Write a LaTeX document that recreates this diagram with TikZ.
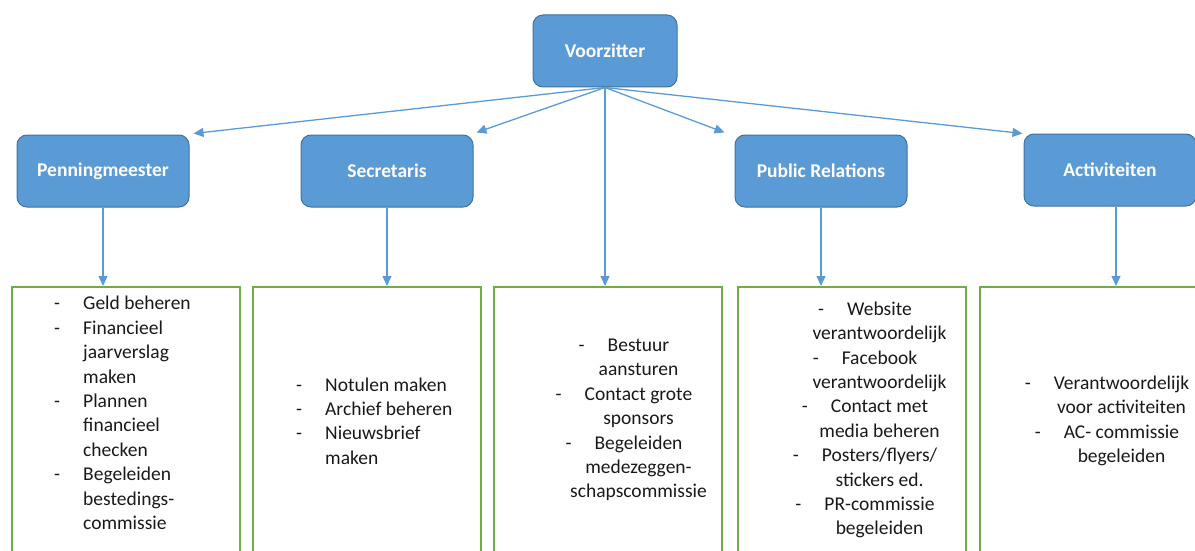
\documentclass[tikz,border=0pt]{standalone}
\usepackage{fontspec}
\setmainfont{Carlito}
\usetikzlibrary{arrows.meta}
\definecolor{boxblue}{HTML}{5B9BD5}
\definecolor{boxedge}{HTML}{41719C}
\definecolor{boxgreen}{HTML}{70AD47}
\newcommand{\dl}[1]{\makebox[29pt][l]{-}#1}
\newcommand{\cl}[1]{\hspace*{29pt}#1}
\begin{document}
\begin{tikzpicture}[x=1pt,y=-1pt,
  role/.style={draw=boxedge, line width=1pt, fill=boxblue, rounded corners=10pt,
    minimum width=172pt, minimum height=72pt, text=white,
    font=\fontsize{19.5}{23}\selectfont\bfseries, inner sep=0pt},
  duty/.style={draw=boxgreen, line width=1.5pt, minimum width=228pt,
    minimum height=300pt, anchor=north west, inner sep=0pt},
  conn/.style={draw=boxblue, line width=1.3pt, -{Triangle[length=10pt,width=9pt]}},
  list/.style={inner sep=0pt, font=\fontsize{19.5}{24.4}\selectfont, text=black!90}]
\clip (0,0) rectangle (1195,551);
% duty boxes
\node[duty] (B1) at (11,286) {};
\node[duty] (B2) at (252,286) {};
\node[duty] (B3) at (493,286) {};
\node[duty] (B4) at (737,286) {};
\node[duty] (B5) at (979,286) {};
% role boxes
\node[role, minimum width=144pt] (V) at (605,51) {Voorzitter};
\node[role] (P) at (103,171) {Penningmeester};
\node[role] (S) at (387,171) {Secretaris};
\node[role] (R) at (821,171) {Public Relations};
\node[role] (A) at (1110,170) {Activiteiten};
% connectors
\draw[conn] (V.south) -- ([shift={(4,-1)}]P.north east);
\draw[conn] (V.south) -- ([shift={(3,-2)}]S.north east);
\draw[conn] (V.south) -- ([shift={(-10,-2)}]R.north west);
\draw[conn] (V.south) -- ([shift={(-1,0)}]A.north west);
\draw[conn] (V.south) -- (V.south |- B3.north);
\draw[conn] (P.south) -- (P.south |- B1.north);
\draw[conn] (S.south) -- (S.south |- B2.north);
\draw[conn] (R.south) -- (R.south |- B4.north);
\draw[conn] ([xshift=6pt]A.south) -- ([xshift=6pt]A.south |- B5.north);
% texts
\node[list, align=left, anchor=west] (T1) at (54,413)
  {\dl{Geld beheren}\\ \dl{Financieel}\\ \cl{jaarverslag}\\ \cl{maken}\\
   \dl{Plannen}\\ \cl{financieel}\\ \cl{checken}\\ \dl{Begeleiden}\\
   \cl{bestedings-}\\ \cl{commissie}};
\node[list, align=left, anchor=west] (T2) at (296,421)
  {\dl{Notulen maken}\\ \dl{Archief beheren}\\ \dl{Nieuwsbrief}\\ \cl{maken}};
\node[list, align=center] (T3) at (624,420)
  {\dl{Bestuur}\\ \cl{aansturen}\\ \dl{Contact grote}\\ \cl{sponsors}\\
   \dl{Begeleiden}\\ \cl{medezeggen-}\\ \cl{schapscommissie}};
\node[list, align=center] (T4) at (865,420)
  {\dl{Website}\\ \cl{verantwoordelijk}\\ \dl{Facebook}\\ \cl{verantwoordelijk}\\
   \dl{Contact met}\\ \cl{media beheren}\\ \dl{Posters/flyers/}\\ \cl{stickers ed.}\\
   \dl{PR-commissie}\\ \cl{begeleiden}};
\node[list, align=center] (T5) at (1107,421)
  {\dl{Verantwoordelijk}\\ \cl{voor activiteiten}\\ \dl{AC- commissie}\\ \cl{begeleiden}};
\end{tikzpicture}
\end{document}
